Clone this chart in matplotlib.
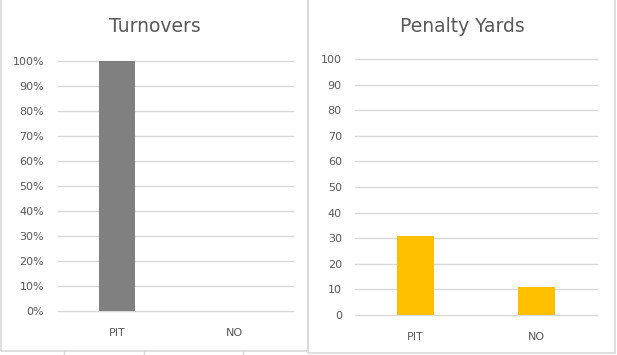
import matplotlib
matplotlib.use('Agg')
from matplotlib import pyplot as plt
from matplotlib.patches import Rectangle
from matplotlib.lines import Line2D
from matplotlib.ticker import PercentFormatter

teams = ['PIT', 'NO']
turnovers = [1.0, 0.0]
penalty_yards = [31, 11]
pct_ticks = [0, 0.1, 0.2, 0.3, 0.4, 0.5, 0.6, 0.7, 0.8, 0.9, 1.0]
yard_ticks = [0, 10, 20, 30, 40, 50, 60, 70, 80, 90, 100]

W, H = 617, 355
txt = '#595959'
grid = '#d9d9d9'

fig = plt.figure(figsize=(W / 100, H / 100), dpi=100)
fig.patch.set_facecolor('white')

def px(x0, y0, x1, y1):
    # pixel box (top-left origin) -> figure fraction rect
    return [x0 / W, 1 - y1 / H, (x1 - x0) / W, (y1 - y0) / H]

# panel borders (top edge is cut off in the screenshot)
fig.add_artist(Rectangle((0.8 / W, 1 - 351 / H), 307 / W, 361 / H, transform=fig.transFigure,
                         fill=False, ec=grid, lw=1.2))
fig.add_artist(Rectangle((308 / W, 1 - 353 / H), 307 / W, 363 / H, transform=fig.transFigure,
                         fill=False, ec=grid, lw=1.2))
for xx in [64, 144, 243]:
    fig.add_artist(Line2D([xx / W, xx / W], [1 - 351 / H, 0], transform=fig.transFigure,
                          color=grid, lw=1))

def style(ax):
    for s in ax.spines.values():
        s.set_visible(False)
    ax.grid(axis='y', color=grid, lw=1)
    ax.set_axisbelow(True)
    ax.tick_params(length=0, colors=txt, labelsize=8)
    ax.set_xlim(-0.5, 1.5)
    for g in ax.get_ygridlines():
        g.set_clip_on(False)

ax1 = fig.add_axes(px(58, 61, 293, 311))
ax1.bar(range(len(teams)), turnovers, width=0.31, color='#808080')
ax1.set_ylim(0, 1)
ax1.set_yticks(pct_ticks)
ax1.yaxis.set_major_formatter(PercentFormatter(1.0, decimals=0))
ax1.set_xticks(range(len(teams)))
ax1.set_xticklabels(teams)
style(ax1)
ax1.tick_params(axis='y', pad=10)
ax1.tick_params(axis='x', pad=12)
fig.text(155 / W, 1 - 27 / H, 'Turnovers', ha='center', va='center', fontsize=13.5, color=txt)

ax2 = fig.add_axes(px(355, 59, 597, 315))
ax2.bar(range(len(teams)), penalty_yards, width=0.31, color='#ffc000')
ax2.set_ylim(0, 100)
ax2.set_yticks(yard_ticks)
ax2.set_xticks(range(len(teams)))
ax2.set_xticklabels(teams)
style(ax2)
ax2.tick_params(axis='y', pad=9.5)
ax2.tick_params(axis='x', pad=12)
fig.text(462 / W, 1 - 26 / H, 'Penalty Yards', ha='center', va='center', fontsize=13.5, color=txt)

fig.savefig('out.png', dpi=100)
